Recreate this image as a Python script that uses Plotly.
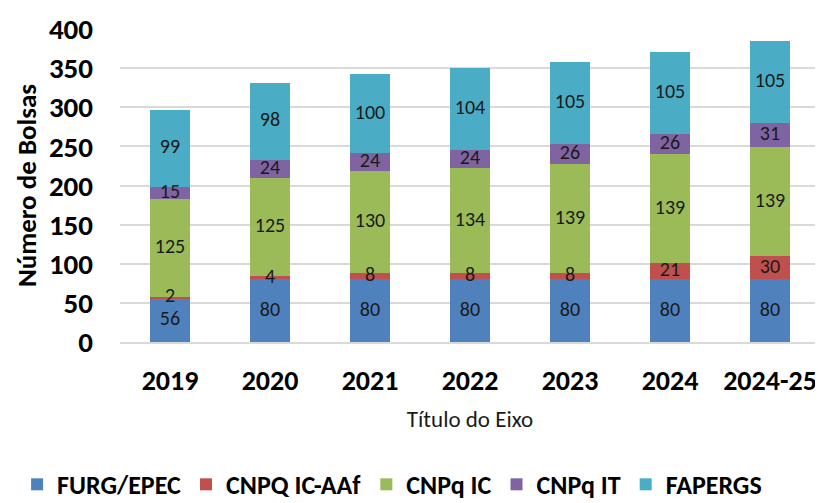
import plotly.graph_objects as go

categories = ["2019", "2020", "2021", "2022", "2023", "2024", "2024-25"]
furg_epec = [56, 80, 80, 80, 80, 80, 80]
cnpq_ic_aaf = [2, 4, 8, 8, 8, 21, 30]
cnpq_ic = [125, 125, 130, 134, 139, 139, 139]
cnpq_it = [15, 24, 24, 24, 26, 26, 31]
fapergs = [99, 98, 100, 104, 105, 105, 105]

series = [
    ("FURG/EPEC", furg_epec, "#4F81BD"),
    ("CNPQ IC-AAf", cnpq_ic_aaf, "#C0504D"),
    ("CNPq IC", cnpq_ic, "#9BBB59"),
    ("CNPq IT", cnpq_it, "#8064A2"),
    ("FAPERGS", fapergs, "#4BACC6"),
]

FONT = "Carlito, Lato, 'Open Sans', sans-serif"

fig = go.Figure()
base = [0] * len(categories)
label_traces = []
for name, vals, color in series:
    fig.add_trace(go.Bar(
        x=categories, y=vals, name=name,
        marker=dict(color=color, line=dict(width=0)),
        width=0.4, hoverinfo="x+y+name",
    ))
    mids = [b + v / 2 for b, v in zip(base, vals)]
    label_traces.append(go.Scatter(
        x=categories, y=mids, mode="text", text=[str(v) for v in vals],
        textfont=dict(family=FONT, size=20, color="#1a1a1a"),
        showlegend=False, hoverinfo="skip",
    ))
    base = [b + v for b, v in zip(base, vals)]

for t in label_traces:
    fig.add_trace(t)

# page has an 8px body margin, so the figure is 815x495 placed at (8, 8)
fig.update_layout(
    barmode="stack",
    width=815, height=495,
    margin=dict(l=112, r=3, t=21, b=161, autoexpand=False),
    paper_bgcolor="white", plot_bgcolor="white",
    font=dict(family=FONT, color="#000000"),
    showlegend=True,
    legend=dict(
        orientation="h", x=-0.147, xanchor="left", y=-0.455, yanchor="middle",
        font=dict(family=FONT, size=26, color="#000000", weight="bold"),
        itemsizing="constant", traceorder="normal", itemwidth=30,
    ),
)

fig.update_yaxes(
    range=[0, 400], dtick=50,
    showgrid=True, gridcolor="#d9d9d9", gridwidth=2,
    zeroline=False, showline=False,
    tickfont=dict(family=FONT, size=29, color="#000000", weight="bold"),
    ticklabelstandoff=26,
    title=dict(text="Número de Bolsas",
               font=dict(family=FONT, size=27, color="#000000", weight="bold"),
               standoff=4),
)
fig.update_xaxes(
    showgrid=False, showline=True, linecolor="#d9d9d9", linewidth=2,
    tickfont=dict(family=FONT, size=28, color="#000000", weight="bold"),
    ticklabelstandoff=12,
    title=dict(text="Título do Eixo",
               font=dict(family=FONT, size=23, color="#1a1a1a"),
               standoff=14),
)

fig.write_html("out.html")
